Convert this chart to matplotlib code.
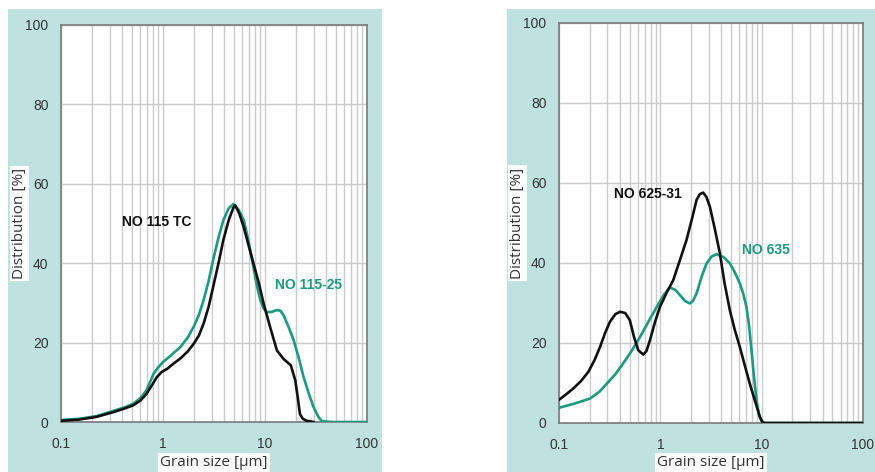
import matplotlib
matplotlib.use("Agg")
import matplotlib.pyplot as plt
from matplotlib.ticker import LogLocator, NullFormatter, FixedLocator, FixedFormatter

# ---------------- data ----------------
# Left panel
tc115_x = [0.1, 0.15, 0.224, 0.327, 0.42, 0.51, 0.6, 0.69, 0.78, 0.87, 0.97, 1.1, 1.28, 1.48, 1.75, 2.0, 2.25, 2.5, 2.8, 3.1, 3.5, 3.9, 4.4, 4.9, 5.1, 5.6, 6.2, 6.9, 7.7, 8.7, 9.7, 11.2, 13.1, 15.3, 17.9, 19.8, 21.0, 22.0, 23.5, 25.7, 30.0]
tc115_y = [0.3, 0.6, 1.3, 2.5, 3.4, 4.2, 5.4, 7.1, 9.3, 11.3, 12.6, 13.4, 14.8, 16.0, 17.8, 19.7, 21.8, 24.8, 29.0, 34.0, 40.0, 45.8, 50.8, 54.0, 54.6, 52.5, 49.0, 44.5, 40.0, 35.0, 29.8, 24.0, 18.0, 15.8, 14.3, 10.5, 6.0, 2.0, 0.8, 0.3, 0.0]

no11525_x = [0.1, 0.15, 0.224, 0.327, 0.42, 0.51, 0.6, 0.69, 0.81, 0.9, 1.0, 1.2, 1.48, 1.75, 2.0, 2.25, 2.5, 2.8, 3.1, 3.5, 3.9, 4.4, 4.9, 5.5, 6.2, 6.9, 7.7, 8.3, 9.0, 9.7, 10.4, 11.5, 13.1, 14.2, 15.2, 17.0, 19.1, 21.5, 23.9, 27.0, 29.9, 33.0, 36.0, 45.0, 100.0]
no11525_y = [0.5, 0.8, 1.5, 2.8, 3.7, 4.6, 6.0, 8.0, 12.2, 13.8, 15.1, 16.8, 18.9, 21.3, 24.0, 27.0, 30.7, 35.5, 40.8, 46.5, 50.8, 53.8, 54.9, 53.5, 50.8, 45.5, 39.0, 34.5, 30.7, 28.6, 27.7, 27.7, 28.2, 28.0, 26.9, 24.0, 20.6, 16.0, 11.3, 7.0, 3.8, 1.5, 0.2, 0.0, 0.0]

# Right panel
no62531_x = [0.1, 0.118, 0.138, 0.165, 0.195, 0.225, 0.254, 0.285, 0.318, 0.36, 0.40, 0.45, 0.50, 0.55, 0.605, 0.68, 0.73, 0.79, 0.88, 0.99, 1.15, 1.34, 1.55, 1.81, 2.05, 2.28, 2.45, 2.65, 2.85, 3.08, 3.45, 3.87, 4.3, 4.85, 5.4, 6.09, 6.8, 7.64, 8.6, 9.6, 10.3, 100.0]
no62531_y = [5.8, 7.2, 8.6, 10.5, 12.8, 15.8, 19.0, 22.5, 25.3, 27.2, 27.8, 27.5, 25.7, 21.5, 18.2, 17.1, 18.0, 20.7, 25.0, 29.0, 32.5, 35.7, 40.5, 45.7, 51.0, 55.8, 57.2, 57.6, 56.5, 54.1, 48.5, 42.4, 35.0, 28.2, 23.5, 19.0, 14.5, 9.8, 5.5, 1.5, 0.0, 0.0]

no635_x = [0.1, 0.14, 0.202, 0.25, 0.295, 0.36, 0.43, 0.52, 0.63, 0.77, 0.92, 1.08, 1.24, 1.4, 1.56, 1.75, 1.95, 2.1, 2.28, 2.55, 2.86, 3.2, 3.58, 4.2, 4.85, 5.4, 6.09, 6.6, 7.08, 7.5, 7.93, 8.4, 8.9, 9.4, 9.96, 10.8, 100.0]
no635_y = [3.8, 4.8, 6.1, 7.8, 9.8, 12.2, 14.9, 18.0, 21.5, 25.5, 29.0, 32.0, 33.9, 33.3, 32.0, 30.5, 29.9, 30.5, 32.4, 36.5, 39.9, 41.6, 42.2, 41.5, 39.9, 37.8, 34.9, 32.2, 29.0, 24.5, 18.2, 11.5, 5.7, 2.2, 0.5, 0.0, 0.0]

panels = [
    dict(black=(tc115_x, tc115_y), green=(no11525_x, no11525_y),
         black_label="NO 115 TC", black_pos=(0.873, 50.4),
         green_label="NO 115-25", green_pos=(26.7, 34.5)),
    dict(black=(no62531_x, no62531_y), green=(no635_x, no635_y),
         black_label="NO 625-31", black_pos=(0.748, 57.2),
         green_label="NO 635", green_pos=(11.0, 43.2)),
]

x_ticks = [0.1, 1, 10, 100]
x_ticklabels = ["0.1", "1", "10", "100"]
y_ticks = [0, 20, 40, 60, 80, 100]

# ---------------- style ----------------
W, H = 875, 472
BG = "#bfe2e0"
GREEN = "#1a9a80"
TXT = "#333333"
GRID = "#cbcbcb"
FRAME = "#7a7a7a"

fig = plt.figure(figsize=(W / 100, H / 100), dpi=100)
fig.patch.set_facecolor("white")

# background panels (pixel boxes: x0, y_top, x1)
bg_boxes = [(8, 9, 382), (507, 9, 875)]
for x0, yt, x1 in bg_boxes:
    bg = fig.add_axes([x0 / W, 0, (x1 - x0) / W, 1 - yt / H], zorder=-5)
    bg.set_facecolor(BG)
    bg.set_xticks([])
    bg.set_yticks([])
    for s in bg.spines.values():
        s.set_visible(False)

axes_boxes = [(61, 25, 367, 422), (559, 23, 863, 423)]
ylabel_x = [19.5, 517.5]

for p, (x0, yt, x1, yb), ylx in zip(panels, axes_boxes, ylabel_x):
    ax = fig.add_axes([x0 / W, 1 - yb / H, (x1 - x0) / W, (yb - yt) / H], zorder=1)
    ax.set_facecolor("white")
    ax.set_xscale("log")
    ax.set_xlim(0.1, 100)
    ax.set_ylim(0, 100)
    ax.xaxis.set_major_locator(FixedLocator(x_ticks))
    ax.xaxis.set_major_formatter(FixedFormatter(x_ticklabels))
    ax.xaxis.set_minor_locator(LogLocator(base=10, subs=range(2, 10)))
    ax.xaxis.set_minor_formatter(NullFormatter())
    ax.set_yticks(y_ticks)
    ax.grid(True, which="major", color=GRID, lw=1.0)
    ax.grid(True, which="minor", axis="x", color=GRID, lw=1.0)
    ax.set_axisbelow(True)
    ax.tick_params(which="both", length=0)
    ax.tick_params(axis="x", pad=11, labelsize=10, labelcolor=TXT)
    ax.tick_params(axis="y", pad=9, labelsize=10, labelcolor=TXT)
    for lab in ax.get_xticklabels() + ax.get_yticklabels():
        lab.set_family("Liberation Sans")
    for s in ax.spines.values():
        s.set_color(FRAME)
        s.set_linewidth(1.2)

    gx, gy = p["green"]
    bx, by = p["black"]
    ax.plot(gx, gy, color=GREEN, lw=1.9, solid_joinstyle="round", zorder=3)
    ax.plot(bx, by, color="#111111", lw=1.9, solid_joinstyle="round", zorder=4)

    ax.text(*p["black_pos"], p["black_label"], color="#111111", fontsize=10,
            fontweight="bold", family="Liberation Sans", ha="center", va="center")
    ax.text(*p["green_pos"], p["green_label"], color=GREEN, fontsize=10,
            fontweight="bold", family="Liberation Sans", ha="center", va="center")

    # axis labels in white boxes
    fig.text(ylx / W, 1 - ((yt + yb) / 2) / H, "Distribution [%]", rotation=90,
             ha="center", va="center", fontsize=11, color=TXT, family="Open Sans",
             bbox=dict(facecolor="white", edgecolor="none", pad=1.5), zorder=5)
    fig.text(((x0 + x1) / 2) / W, 1 - 463 / H, "Grain size [µm]",
             ha="center", va="center", fontsize=11, color=TXT, family="Open Sans",
             bbox=dict(facecolor="white", edgecolor="none", pad=1.5), zorder=5)

fig.savefig("out.png", dpi=100, facecolor="white")
